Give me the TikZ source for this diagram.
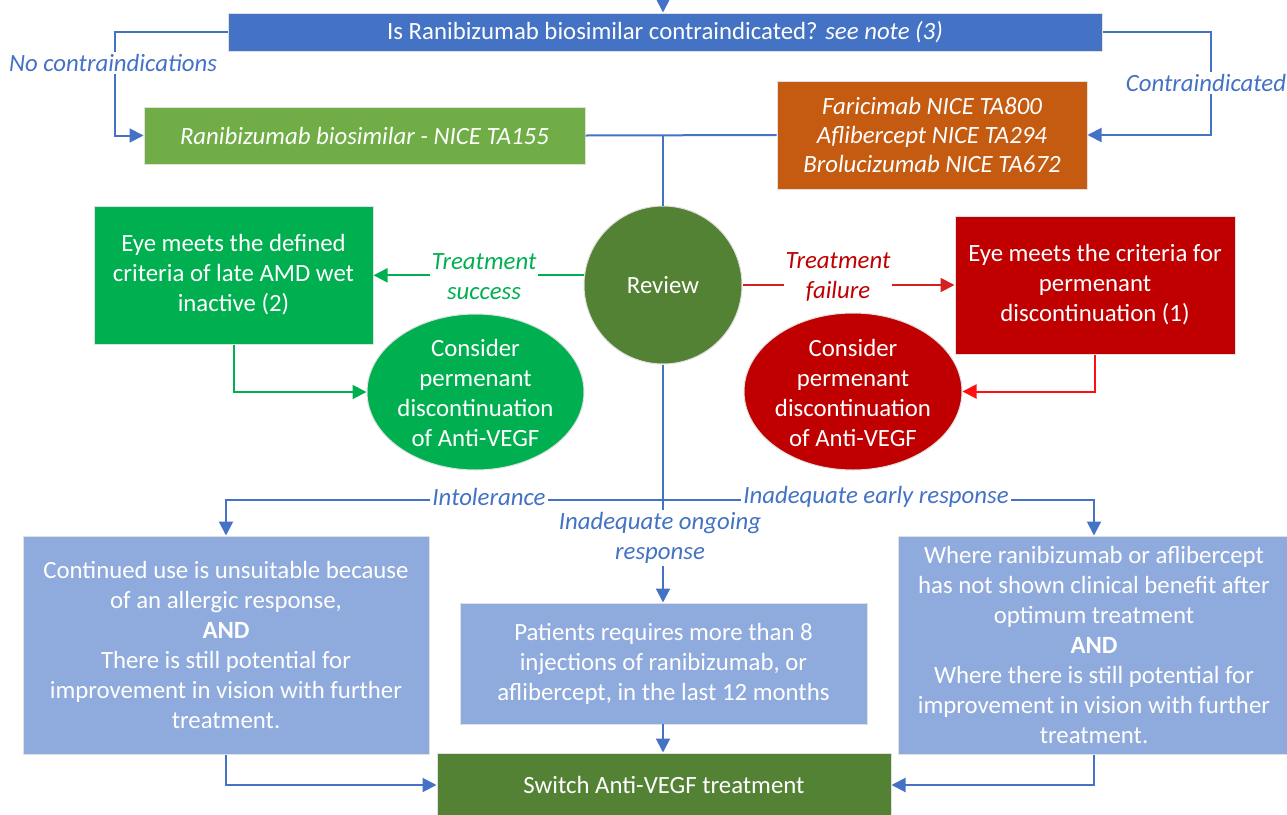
\documentclass[tikz,border=0pt]{standalone}
\usepackage{fontspec}
\setmainfont{Carlito}
\usetikzlibrary{arrows.meta,shapes.geometric}
\definecolor{qblue}{HTML}{4472C4}
\definecolor{lblue}{HTML}{8FAADC}
\definecolor{ngreen}{HTML}{70AD47}
\definecolor{dgreen}{HTML}{548235}
\definecolor{bgreen}{HTML}{00B050}
\definecolor{orng}{HTML}{C55A11}
\definecolor{dred}{HTML}{C00000}
\definecolor{lred}{HTML}{FF1010}
\definecolor{mred}{HTML}{D42020}
\begin{document}
\begin{tikzpicture}[x=0.5pt,y=-0.5pt,
  box/.style={rectangle, draw=black!12, line width=0.5pt, text=white, align=center, inner sep=0pt,
    font=\fontsize{12.4}{15}\selectfont},
  oval/.style={ellipse, draw=black!12, line width=0.5pt, inner sep=0pt},
  ovtxt/.style={text=white, align=center, inner sep=0pt, font=\fontsize{12.4}{15}\selectfont},
  conn/.style={draw=qblue, line width=1pt},
  arr/.style={-{Triangle[length=7pt,width=7pt]}},
  lbl/.style={fill=white, inner sep=1pt, text=qblue, align=center, font=\fontsize{12.4}{15}\selectfont\itshape}
]
\useasboundingbox (0,0) rectangle (1287,815);

% nodes
\node[box, fill=qblue, minimum width=437pt, minimum height=19pt, font=\fontsize{12.4}{14}\selectfont] (q) at (665,32)
  {Is Ranibizumab biosimilar contraindicated? \textit{see note (3)}};
\node[box, fill=ngreen, minimum width=220.5pt, minimum height=28.5pt, font=\fontsize{12.4}{15}\selectfont\itshape] (g1) at (364.5,135.5)
  {Ranibizumab biosimilar - NICE TA155};
\node[box, fill=orng, minimum width=155pt, minimum height=54pt, font=\fontsize{12.4}{14.5}\selectfont\itshape] (ora) at (932,135)
  {Faricimab NICE TA800\\Aflibercept NICE TA294\\Brolucizumab NICE TA672};
\node[oval, fill=dgreen, minimum width=79pt, minimum height=79pt] (rev) at (663,285) {};
\node[ovtxt] (revt) at (rev.center) {Review};
\node[box, fill=bgreen, minimum width=139.5pt, minimum height=69pt] (gb) at (233.5,275)
  {Eye meets the defined\\criteria of late AMD wet\\inactive (2)};
\node[oval, fill=bgreen, minimum width=108.5pt, minimum height=78pt] (gc) at (475.5,392) {};
\node[ovtxt] (gct) at (475.5,393) {Consider\\permenant\\discontinuation\\of Anti-VEGF};
\node[box, fill=dred, minimum width=140pt, minimum height=69pt] (rb) at (1095,285)
  {Eye meets the criteria for\\permenant\\discontinuation (1)};
\node[oval, fill=dred, minimum width=109pt, minimum height=78.5pt] (rc) at (853,391.5) {};
\node[ovtxt] (rct) at (853,393) {Consider\\permenant\\discontinuation\\of Anti-VEGF};
\node[box, fill=lblue, minimum width=203pt, minimum height=109pt] (lb) at (226,645)
  {Continued use is unsuitable because\\of an allergic response,\\\textbf{AND}\\There is still potential for\\improvement in vision with further\\treatment.};
\node[box, fill=lblue, minimum width=203.5pt, minimum height=60.5pt] (mid) at (663.5,663.5)
  {Patients requires more than 8\\injections of ranibizumab, or\\aflibercept, in the last 12 months};
\node[box, fill=lblue, minimum width=196pt, minimum height=109pt] (rbx) at (1094,645)
  {Where ranibizumab or aflibercept\\has not shown clinical benefit after\\optimum treatment\\\textbf{AND}\\Where there is still potential for\\improvement in vision with further\\treatment.};
\node[box, fill=dgreen, minimum width=227pt, minimum height=32pt] (sw) at (664,785)
  {Switch Anti-VEGF treatment};

% connectors
\coordinate (topin) at (663,0);
\draw[conn,arr] (topin) -- (topin |- q.north);
\draw[conn,arr] (q.west) -- ++(-113,0) |- (g1.west);
\draw[conn,arr] (q.east) -- ++(108,0) |- (ora.east);
\draw[conn] (g1.east) -- (ora.west);
\draw[conn] (rev.north) -- (rev.north |- g1.east);
\draw[draw=bgreen, line width=1pt, arr] (rev.173) -- (rev.173 -| gb.east);
\draw[draw=bgreen, line width=1pt, arr] (gb.south) |- (gc.west);
\draw[draw=mred, line width=1pt, arr] (rev.east) -- (rev.east -| rb.west);
\draw[draw=lred, line width=1pt, arr] (rb.south) |- (rc.east);
\coordinate (jn) at (663,500);
\draw[conn,arr] (rev.south) -- (rev.south |- mid.north);
\draw[conn,arr] (jn) -| (lb.north);
\draw[conn,arr] (jn) -| (rbx.north);
\draw[conn,arr] (lb.south) |- (sw.west);
\draw[conn,arr] (rbx.south) |- (sw.east);
\draw[conn,arr] (mid.south) -- (mid.south -| rev.south) -- (rev.south |- sw.north);

% labels
\node[lbl] (nc) at (113,63) {No contraindications};
\node[lbl] (ci) at (1206,83) {Contraindicated};
\node[lbl, text=bgreen] (ts) at (484,277) {Treatment\\success};
\node[lbl, text=dred] (tf) at (838,277) {Treatment\\failure};
\node[lbl] (it) at (489,497) {Intolerance};
\node[lbl] (ie) at (876,497) {Inadequate early response};
\node[lbl] (io) at (660,538) {Inadequate ongoing\\response};
\end{tikzpicture}
\end{document}
